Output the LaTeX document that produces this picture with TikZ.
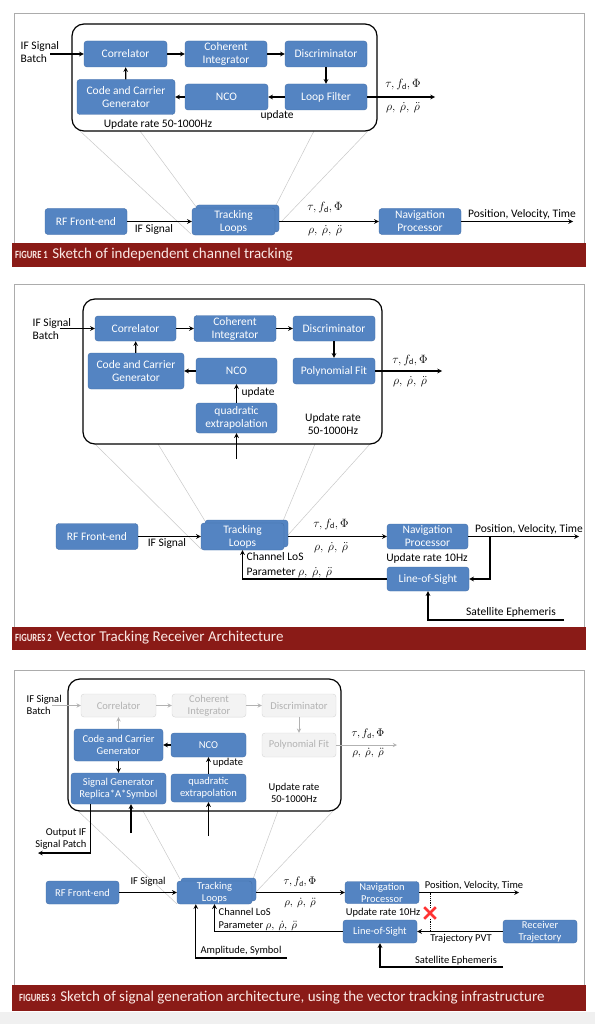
\documentclass[tikz,border=0pt]{standalone}
\usepackage{amsmath, amssymb}
\usepackage{fontspec}
\setmainfont{Carlito}
\usepackage{xcolor}
\usepackage{tikz}
\usetikzlibrary{shapes.misc}

\definecolor{blkfill}{RGB}{84,132,194}
\definecolor{blkline}{RGB}{66,110,168}
\definecolor{capred}{RGB}{138,27,23}
\definecolor{captext}{RGB}{250,232,228}
\definecolor{zoomgray}{RGB}{200,200,200}
\definecolor{fadefill}{RGB}{243,243,243}
\definecolor{fadeline}{RGB}{214,214,214}
\definecolor{fadetext}{RGB}{178,178,178}

\newcommand{\boxfont}{\fontsize{11.5}{13}\selectfont}
\newcommand{\smallboxfont}{\fontsize{10.5}{12}\selectfont}
\newcommand{\capkey}[1]{{\fontsize{11}{12}\selectfont\addfontfeature{FakeStretch=0.78}\bfseries #1}}
\newcommand{\capfont}{\fontsize{15}{17}\selectfont}

\begin{document}
\begin{tikzpicture}[
  x=1pt, y=-1pt,
  >=stealth,
  edge/.style={->, line width=1.1pt},
  faint/.style={->, line width=0.9pt, fadetext},
  zoomln/.style={zoomgray, line width=0.5pt},
  panel/.style={draw=gray!65, line width=0.8pt},
  loopbox/.style={draw, line width=1.2pt, rounded corners=12pt},
  blk/.style={draw=blkline, fill=blkfill, text=white, rounded corners=3pt, align=center, inner sep=1pt, font=\boxfont},
  ghost/.style={draw=fadeline, fill=fadefill, text=fadetext, rounded corners=3pt, align=center, inner sep=1pt, font=\boxfont},
  lbl/.style={font=\boxfont, inner sep=0.5pt},
  captxt/.style={anchor=west, text=captext, inner sep=0pt}
]
  \useasboundingbox (0,0) rectangle (595,1024);
  \fill[black!6] (0,1012) rectangle (595,1024);

  % ---------- figure 1 ----------
  \draw[panel] (14,13) rectangle (584,243);
  \fill[capred] (12,243) rectangle (586,267);
  \node[captxt] (cap1) at (15,255) {\capkey{FIGURE 1}\ \ \capfont Sketch of independent channel tracking};

  % zoom lines
  \draw[zoomln] (80,131) -- (191,234);
  \draw[zoomln] (140,131) -- (197,208);
  \draw[zoomln] (314,131) -- (275,207);
  \draw[zoomln] (368,131) -- (281,222);

  \draw[loopbox] (72,24) rectangle (377,131);

  % nodes
  \node[blk, minimum width=83, minimum height=26] (corr1) at (125.5,54) {Correlator};
  \node[blk, minimum width=82, minimum height=26] (coh1) at (226,54) {Coherent\\Integrator};
  \node[blk, minimum width=82, minimum height=26] (disc1) at (326,54) {Discriminator};
  \node[blk, minimum width=82, minimum height=26] (lf1) at (326,97) {Loop Filter};
  \node[blk, minimum width=83, minimum height=26] (nco1) at (226.5,97) {NCO};
  \node[blk, minimum width=98, minimum height=35] (ccg1) at (126,97) {Code and Carrier\\Generator};
  \node[lbl, align=left, anchor=west] (ifb1) at (20,52) {IF Signal\\Batch};
  \coordinate (in1) at (50,54);
  \node[lbl] (rate1) at (158,124) {Update rate 50-1000Hz};
  \node[lbl] (upd1) at (277,115) {update};
  \coordinate (out1) at (435,97);
  \node[lbl] (tau1) at (403,85) {$\tau, f_{\mathrm{d}}, \Phi$};
  \node[lbl] (rho1) at (403,108) {$\rho,\ \dot{\rho},\ \ddot{\rho}$};

  \node[blk, minimum width=82, minimum height=26] (rf1) at (86,221.5) {RF Front-end};
  \node[blk, minimum width=83, minimum height=27] (trk1b) at (237.5,218.5) {};
  \node[blk, minimum width=83, minimum height=27] (trk1) at (233.5,221.5) {Tracking\\Loops};
  \node[blk, minimum width=82, minimum height=26] (nav1) at (420,221.5) {Navigation\\Processor};
  \node[lbl] (ifs1) at (154,229) {IF Signal};
  \node[lbl] (tau1b) at (325,208) {$\tau, f_{\mathrm{d}}, \Phi$};
  \node[lbl] (rho1b) at (325,231) {$\rho,\ \dot{\rho},\ \ddot{\rho}$};
  \node[lbl] (pvt1) at (522,214) {Position, Velocity, Time};
  \coordinate (pvtout1) at (573,221.5);

  % edges
  \draw[edge] (in1) -- (corr1);
  \draw[edge] (corr1) -- (coh1);
  \draw[edge] (coh1) -- (disc1);
  \draw[edge] (disc1) -- (lf1);
  \draw[edge] (lf1) -- (nco1);
  \draw[edge] (nco1) -- (ccg1);
  \draw[edge] (ccg1) -- (corr1);
  \draw[edge] (lf1) -- (out1);
  \draw[edge] (rf1) -- (trk1);
  \draw[edge] (trk1b.east |- trk1) -- (nav1);
  \draw[edge] (nav1) -- (pvtout1);

  % ---------- figure 2 ----------
  \draw[panel] (14,284) rectangle (584,627);
  \fill[capred] (12,627) rectangle (586,650);
  \node[captxt] (cap2) at (15,638) {\capkey{FIGURES 2}\ \ \capfont Vector Tracking Receiver Architecture};

  % zoom lines
  \draw[zoomln] (95,444) -- (201,549);
  \draw[zoomln] (158,444) -- (205,521);
  \draw[zoomln] (315,444) -- (283,521);
  \draw[zoomln] (370,444) -- (288,535);

  \draw[loopbox] (83,299) rectangle (382,444);

  % nodes
  \node[blk, minimum width=81, minimum height=25] (corr2) at (135.5,328.5) {Correlator};
  \node[blk, minimum width=82, minimum height=26] (coh2) at (235,328.5) {Coherent\\Integrator};
  \node[blk, minimum width=82, minimum height=25] (disc2) at (334,328.5) {Discriminator};
  \node[blk, minimum width=82, minimum height=26] (poly2) at (334,371) {Polynomial Fit};
  \node[blk, minimum width=96, minimum height=36] (ccg2) at (136,371) {Code and Carrier\\Generator};
  \node[blk, minimum width=81, minimum height=26] (nco2) at (236.5,371) {NCO};
  \node[blk, minimum width=81, minimum height=30] (quad2) at (236.5,418) {quadratic\\extrapolation};
  \node[lbl, align=left, anchor=west] (ifb2) at (32,329) {IF Signal\\Batch};
  \coordinate (in2) at (60,328.5);
  \node[lbl] (upd2) at (258,392) {update};
  \node[lbl, align=center] (rate2a) at (333,424) {Update rate\\50-1000Hz};
  \coordinate (qin2) at (236.5,459);
  \coordinate (out2) at (442,371);
  \node[lbl] (tau2) at (410,360) {$\tau, f_{\mathrm{d}}, \Phi$};
  \node[lbl] (rho2) at (410,382) {$\rho,\ \dot{\rho},\ \ddot{\rho}$};

  \node[blk, minimum width=82, minimum height=26] (rf2) at (97,536.5) {RF Front-end};
  \node[blk, minimum width=83, minimum height=27] (trk2b) at (246.5,533.5) {};
  \node[blk, minimum width=83, minimum height=27] (trk2) at (242.5,536.5) {Tracking\\Loops};
  \node[blk, minimum width=81, minimum height=25] (nav2) at (427.5,536.5) {Navigation\\Processor};
  \node[blk, minimum width=82, minimum height=24] (los2) at (428,579) {Line-of-Sight};
  \node[lbl] (ifs2) at (167,543) {IF Signal};
  \node[lbl] (tau2b) at (331,524) {$\tau, f_{\mathrm{d}}, \Phi$};
  \node[lbl] (rho2b) at (331,548) {$\rho,\ \dot{\rho},\ \ddot{\rho}$};
  \node[lbl] (pvt2) at (529,529) {Position, Velocity, Time};
  \coordinate (pvtout2) at (579,536.5);
  \coordinate (brk2) at (490,536.5);
  \node[lbl] (rate2) at (427,558) {Update rate 10Hz};
  \node[lbl, anchor=west] (chl2) at (246,557) {Channel LoS};
  \node[lbl, anchor=west] (par2) at (246,573) {Parameter $\rho,\ \dot{\rho},\ \ddot{\rho}$};
  \coordinate (sat2) at (564,620);
  \node[lbl] (satl2) at (511,612) {Satellite Ephemeris};

  % edges
  \draw[edge] (in2) -- (corr2);
  \draw[edge] (corr2) -- (coh2);
  \draw[edge] (coh2) -- (disc2);
  \draw[edge] (disc2) -- (poly2);
  \draw[edge] (nco2) -- (ccg2);
  \draw[edge] (ccg2) -- (corr2);
  \draw[edge] (quad2) -- (nco2);
  \draw[edge] (qin2) -- (quad2);
  \draw[edge] (poly2) -- (out2);
  \draw[edge] (rf2) -- (trk2);
  \draw[edge] (trk2b.east |- trk2) -- (nav2);
  \draw[edge] (nav2) -- (pvtout2);
  \draw[edge] (brk2) |- (los2);
  \draw[edge] (los2) -| (trk2.south);
  \draw[edge] (sat2) -| (los2);

  % ---------- figure 3 ----------
  \draw[panel] (14,670) rectangle (584,985);
  \fill[capred] (12,985) rectangle (586,1011);
  \node[captxt] (cap3) at (19,998) {\capkey{FIGURES 3}\ \ \capfont Sketch of signal generation architecture, using the vector tracking infrastructure};

  \begin{scope}[blk/.append style={font=\smallboxfont}, ghost/.append style={font=\smallboxfont}, lbl/.append style={font=\smallboxfont}]
  % zoom lines
  \draw[zoomln] (78,811) -- (177,904);
  \draw[zoomln] (143,811) -- (180,879);
  \draw[zoomln] (278,811) -- (253,879);
  \draw[zoomln] (333,811) -- (256,892);

  \draw[loopbox] (68,679) rectangle (341,811);

  % nodes
  \node[ghost, minimum width=75, minimum height=23] (corr3) at (118.5,705.5) {Correlator};
  \node[ghost, minimum width=74, minimum height=23] (coh3) at (209,705.5) {Coherent\\Integrator};
  \node[ghost, minimum width=74, minimum height=23] (disc3) at (299,705.5) {Discriminator};
  \node[ghost, minimum width=74, minimum height=24] (poly3) at (299,745) {Polynomial Fit};
  \node[blk, minimum width=89, minimum height=32] (ccg3) at (118.5,745) {Code and Carrier\\Generator};
  \node[blk, minimum width=75, minimum height=24] (nco3) at (208.5,745) {NCO};
  \node[blk, minimum width=95, minimum height=31] (sg3) at (118.5,788.5) {Signal Generator\\Replica*A*Symbol};
  \node[blk, minimum width=75, minimum height=28] (quad3) at (208.5,788) {quadratic\\extrapolation};
  \node[lbl, align=left, anchor=west] (ifb3) at (26,704.5) {IF Signal\\Batch};
  \coordinate (in3) at (52,705.5);
  \node[lbl] (upd3) at (228,763) {update};
  \node[lbl, align=center] (rate3a) at (294,793) {Update rate\\50-1000Hz};
  \coordinate (out3) at (397,745);
  \node[lbl] (tau3) at (368,734) {$\tau, f_{\mathrm{d}}, \Phi$};
  \node[lbl] (rho3) at (368,753) {$\rho,\ \dot{\rho},\ \ddot{\rho}$};
  \node[lbl, align=right, anchor=east] (oif3) at (87,838.5) {Output IF\\Signal Patch};
  \coordinate (outif3) at (38,853);
  \coordinate (sgin3) at (131,833);
  \coordinate (qin3) at (208.5,836);

  \node[blk, minimum width=73, minimum height=23] (rf3) at (82.5,892.5) {RF Front-end};
  \node[blk, minimum width=75, minimum height=23] (trk3b) at (218.5,889.5) {};
  \node[blk, minimum width=75, minimum height=23] (trk3) at (214.5,892.5) {Tracking\\Loops};
  \node[blk, minimum width=74, minimum height=22] (nav3) at (382,892.5) {Navigation\\Processor};
  \node[blk, minimum width=74, minimum height=23] (los3) at (380,931.5) {Line-of-Sight};
  \node[blk, minimum width=74, minimum height=23] (rt3) at (540,931.5) {Receiver\\Trajectory};
  \node[lbl] (ifs3) at (148,882) {IF Signal};
  \node[lbl] (tau3b) at (300,882) {$\tau, f_{\mathrm{d}}, \Phi$};
  \node[lbl] (rho3b) at (300,903) {$\rho,\ \dot{\rho},\ \ddot{\rho}$};
  \node[lbl] (pvt3) at (474,886) {Position, Velocity, Time};
  \coordinate (pvtout3) at (519,892.5);
  \node[lbl] (rate3) at (383,913) {Update rate 10Hz};
  \node[lbl] (trj3) at (461,939) {Trajectory PVT};
  \node[lbl, anchor=west] (chl3) at (218,912) {Channel LoS};
  \node[lbl, anchor=west] (par3) at (218,925.5) {Parameter $\rho,\ \dot{\rho},\ \ddot{\rho}$};
  \coordinate (amp3) at (287,958);
  \node[lbl] (ampl3) at (241,951) {Amplitude, Symbol};
  \coordinate (sat3) at (503,967);
  \node[lbl] (satl3) at (456,961) {Satellite Ephemeris};

  % edges
  \draw[faint] (in3) -- (corr3);
  \draw[faint] (corr3) -- (coh3);
  \draw[faint] (coh3) -- (disc3);
  \draw[faint] (disc3) -- (poly3);
  \draw[faint] (ccg3) -- (corr3);
  \draw[faint] (poly3) -- (out3);
  \draw[edge] (nco3) -- (ccg3);
  \draw[edge] (ccg3) -- (sg3);
  \draw[edge] (quad3) -- (nco3);
  \draw[edge] (qin3) -- (quad3);
  \draw[edge] (sgin3) -- (sgin3 |- sg3.south);
  \draw[edge] ([xshift=20pt]sg3.south west) |- (outif3);
  \draw[edge] (rf3) -- (trk3);
  \draw[edge] (trk3b.east |- trk3) -- (nav3);
  \draw[edge] (nav3) -- (pvtout3);
  \draw[edge] (rt3) -- (los3);
  \draw[edge] (los3) -| (trk3.south);
  \draw[edge] (amp3) -| ([xshift=19pt]trk3.south west);
  \draw[edge] (sat3) -| (los3);
  \node[cross out, draw=red!80, line width=2.6pt, minimum size=9pt, inner sep=0pt] (stop3) at (430,913) {};
  \draw[densely dotted, line width=0.8pt] (nav3.east -| stop3) -- (stop3);
  \draw[densely dotted, line width=0.8pt] (stop3) -- (los3.east -| stop3);
  \end{scope}
\end{tikzpicture}
\end{document}
